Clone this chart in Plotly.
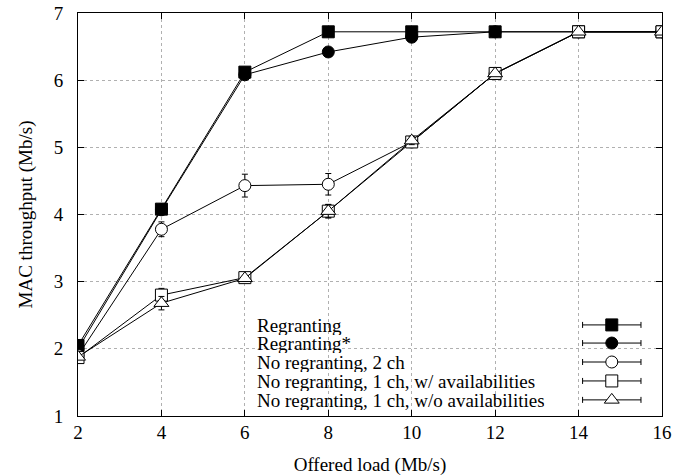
import plotly.graph_objects as go

x_load = [2, 4, 6, 8, 10, 12, 14, 16]

regranting = [2.05, 4.08, 6.12, 6.72, 6.72, 6.72, 6.72, 6.72]
regranting_err = [0.02, 0.03, 0.03, 0.01, 0.01, 0.01, 0.01, 0.01]

regranting_star = [2.0, 4.07, 6.08, 6.42, 6.64, 6.72, 6.72, 6.72]
regranting_star_err = [0.02, 0.03, 0.03, 0.03, 0.03, 0.01, 0.01, 0.01]

noreg_2ch = [1.9, 3.78, 4.43, 4.45, 5.08, 6.1, 6.72, 6.72]
noreg_2ch_err = [0.03, 0.11, 0.17, 0.16, 0.06, 0.03, 0.01, 0.01]

noreg_1ch_av = [1.87, 2.8, 3.06, 4.05, 5.08, 6.1, 6.72, 6.72]
noreg_1ch_av_err = [0.03, 0.1, 0.04, 0.1, 0.06, 0.03, 0.01, 0.01]

noreg_1ch_noav = [1.88, 2.68, 3.05, 4.05, 5.1, 6.1, 6.72, 6.72]
noreg_1ch_noav_err = [0.03, 0.1, 0.04, 0.1, 0.06, 0.03, 0.01, 0.01]

names = ["Regranting", "Regranting*", "No regranting, 2 ch",
         "No regranting, 1 ch, w/ availabilities",
         "No regranting, 1 ch, w/o availabilities"]

x_ticks = [2, 4, 6, 8, 10, 12, 14, 16]
y_ticks = [1, 2, 3, 4, 5, 6, 7]

series = [
    (regranting, regranting_err, "square", "black"),
    (regranting_star, regranting_star_err, "circle", "black"),
    (noreg_2ch, noreg_2ch_err, "circle", "white"),
    (noreg_1ch_av, noreg_1ch_av_err, "square", "white"),
    (noreg_1ch_noav, noreg_1ch_noav_err, "triangle-up", "white"),
]

FONT = "Liberation Serif"
FS = 19
fig = go.Figure()

# white box behind legend (hides grid)
fig.add_shape(type="rect", xref="paper", yref="paper", x0=0.308, x1=0.987,
              y0=0.0, y1=0.25, fillcolor="white", line_width=0, layer="between")

for (vals, err, sym, fill), nm in zip(series, names):
    fig.add_trace(go.Scatter(
        x=x_load, y=vals, mode="lines+markers", name=nm, showlegend=False,
        line=dict(color="black", width=1),
        marker=dict(symbol=sym, size=12 if sym != "triangle-up" else 13,
                    color=fill, line=dict(color="black", width=1)),
        error_y=dict(type="data", array=err, visible=True, color="black",
                     thickness=1, width=3),
    ))

# custom legend keys (text left, symbol right)
row_y = [0.226, 0.181, 0.134, 0.087, 0.040]
key_x = 0.914
for (vals, err, sym, fill), nm, ry in zip(series, names, row_y):
    fig.add_trace(go.Scatter(
        x=[key_x], y=[ry], xaxis="x2", yaxis="y2", mode="markers",
        showlegend=False, hoverinfo="skip",
        marker=dict(symbol=sym, size=12 if sym != "triangle-up" else 13,
                    color=fill, line=dict(color="black", width=1)),
        error_x=dict(type="constant", value=0.05, visible=True, color="black",
                     thickness=1, width=3),
    ))
    fig.add_annotation(x=0.305, y=ry, xref="x2", yref="y2", text=nm,
                       showarrow=False, xanchor="left", yanchor="middle",
                       height=20, borderpad=0, valign="middle",
                       font=dict(family=FONT, size=FS, color="black"))

axis_common = dict(
    showline=True, linecolor="black", linewidth=1, mirror="allticks",
    ticks="inside", ticklen=6, tickcolor="black", automargin=False,
    showgrid=True, gridcolor="#b0b0b0", griddash="dot", gridwidth=1,
    zeroline=False, tickfont=dict(family=FONT, size=FS, color="black"),
)

fig.update_layout(
    width=686, height=476,
    margin=dict(l=78, r=24, t=13, b=60),
    paper_bgcolor="white", plot_bgcolor="white",
    xaxis=dict(range=[2, 16], tickvals=x_ticks, ticklabelstandoff=-1,
               title=dict(text="Offered load (Mb/s)", standoff=19,
                          font=dict(family=FONT, size=FS, color="black")),
               **axis_common),
    yaxis=dict(range=[1, 7], tickvals=y_ticks, ticklabelstandoff=10,
               title=dict(text="MAC throughput (Mb/s)", standoff=16,
                          font=dict(family=FONT, size=FS, color="black")),
               **axis_common),
    xaxis2=dict(range=[0, 1], overlaying="x", visible=False),
    yaxis2=dict(range=[0, 1], overlaying="y", visible=False),
)

fig.write_html("out.html")
